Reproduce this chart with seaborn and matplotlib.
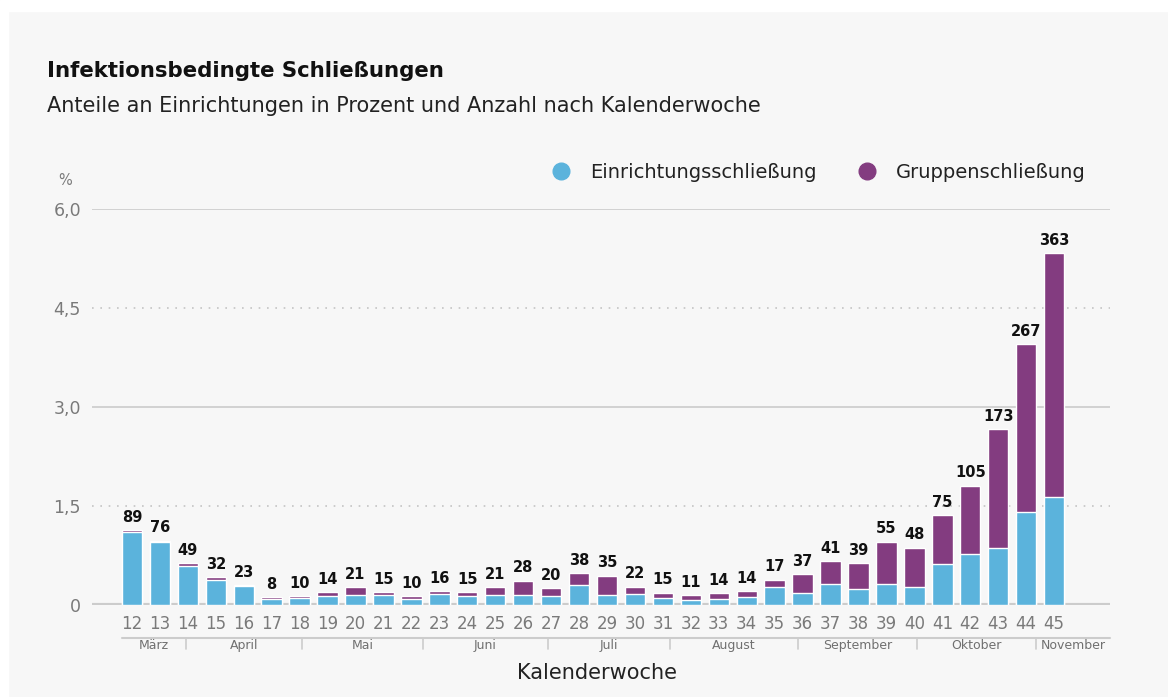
import matplotlib
matplotlib.use("Agg")
import matplotlib.pyplot as plt
from matplotlib.lines import Line2D
from matplotlib.patches import Rectangle
import seaborn as sns
import pandas as pd

weeks = [str(w) for w in range(12, 46)]
counts = [89, 76, 49, 32, 23, 8, 10, 14, 21, 15, 10, 16, 15, 21, 28, 20, 38,
          35, 22, 15, 11, 14, 14, 17, 37, 41, 39, 55, 48, 75, 105, 173, 267, 363]
einrichtung = [1.11, 0.95, 0.59, 0.38, 0.29, 0.095, 0.11, 0.14, 0.155, 0.15,
               0.095, 0.17, 0.13, 0.145, 0.155, 0.135, 0.305, 0.15, 0.165, 0.11,
               0.08, 0.095, 0.12, 0.275, 0.185, 0.325, 0.245, 0.315, 0.275,
               0.62, 0.78, 0.87, 1.41, 1.64]
gruppe = [0.025, 0.02, 0.04, 0.04, 0.01, 0.02, 0.025, 0.05, 0.115, 0.045,
          0.04, 0.04, 0.065, 0.125, 0.215, 0.12, 0.175, 0.295, 0.115, 0.075,
          0.065, 0.08, 0.085, 0.11, 0.28, 0.34, 0.39, 0.64, 0.595, 0.74,
          1.03, 1.79, 2.54, 3.69]
months = ["März", "April", "Mai", "Juni", "Juli", "August", "September",
          "Oktober", "November"]
# month boundaries in calendar-week units
month_bounds = [11.64, 13.95, 18.1, 22.4, 26.9, 31.25, 35.85, 40.1, 44.35, 47.0]

BLUE = "#5bb3dc"
PURPLE = "#833c80"
BG = "#f7f7f7"

df = pd.DataFrame({"KW": weeks, "einr": einrichtung, "grp": gruppe})
df["total"] = df["einr"] + df["grp"]

sns.set_style("white")
plt.rcParams["font.family"] = ["DejaVu Sans"]

fig = plt.figure(figsize=(11.68, 6.97), dpi=100, facecolor=BG)
fig.patches.append(Rectangle((0, 1 - 11 / 697), 1, 11 / 697, transform=fig.transFigure,
                             color="white", zorder=-5))
fig.patches.append(Rectangle((0, 0), 8 / 1168, 1, transform=fig.transFigure,
                             color="white", zorder=-5))

ax = fig.add_axes([92 / 1168, 1 - 605 / 697, (1110 - 92) / 1168, 396 / 697])
ax.set_facecolor(BG)

sns.barplot(data=df, x="KW", y="total", color=PURPLE, saturation=1, width=0.73,
            ax=ax, zorder=3)
sns.barplot(data=df, x="KW", y="einr", color=BLUE, saturation=1, width=0.73,
            ax=ax, zorder=3)

ax.bar_label(ax.containers[0], labels=[str(c) for c in counts], padding=4,
             fontsize=10.5, fontweight="bold", color="#111111")

for y in [3.0, 6.0]:
    ax.axhline(y, color="#cfcfcf", lw=1.3, zorder=0)
for y in [1.5, 4.5]:
    ax.axhline(y, color="#c4c4c4", lw=1.2, ls=(0, (1, 4)), zorder=0)
ax.axhline(0, color="#cccccc", lw=3, zorder=1)

ax.set_xlim(-1.43, 35.0)
ax.set_ylim(0, 6.0)
sns.despine(ax=ax, left=True, bottom=True)

ax.set_yticks([0, 1.5, 3.0, 4.5, 6.0])
ax.set_yticklabels(["0", "1,5", "3,0", "4,5", "6,0"])
ax.tick_params(axis="y", length=0, pad=8, labelsize=12.5, labelcolor="#7a7a7a")
ax.tick_params(axis="x", length=0, pad=7, labelsize=12, labelcolor="#7a7a7a")
ax.set_ylabel("")
ax.set_xlabel("Kalenderwoche", fontsize=15, color="#222222")
ax.xaxis.set_label_coords(0.496, -0.172)
ax.xaxis.label.set_va("center")

ax.text(-0.033, 1.073, "%", transform=ax.transAxes, fontsize=10.5,
        color="#7a7a7a", ha="left", va="center")

# month axis below the week numbers
tr = ax.get_xaxis_transform()
off = 12
ax.plot([month_bounds[0] - off, 35.0], [-0.083, -0.083], transform=tr,
        color="#cccccc", lw=1.5, clip_on=False)
for b in month_bounds[1:-1]:
    ax.plot([b - off, b - off], [-0.083, -0.11], transform=tr,
            color="#cccccc", lw=1.2, clip_on=False)
for i, m in enumerate(months):
    lo = month_bounds[i] - off
    hi = min(month_bounds[i + 1] - off, 35.0)
    ax.text((lo + hi) / 2, -0.103, m, transform=tr, ha="center", va="center",
            fontsize=9, color="#707070")

fig.text(47 / 1168, 1 - 77 / 697, "Infektionsbedingte Schließungen",
         fontsize=15.3, fontweight="bold", color="#111111", va="baseline")
fig.text(47 / 1168, 1 - 112 / 697,
         "Anteile an Einrichtungen in Prozent und Anzahl nach Kalenderwoche",
         fontsize=15, color="#222222", va="baseline")

handles = [Line2D([], [], marker="o", ls="", color=BLUE, markersize=12),
           Line2D([], [], marker="o", ls="", color=PURPLE, markersize=12)]
fig.legend(handles, ["Einrichtungsschließung", "Gruppenschließung"], ncol=2,
           frameon=False, loc="center left",
           bbox_to_anchor=(524 / 1168, 1 - 172 / 697), fontsize=14,
           handletextpad=0.5, columnspacing=1.6, labelcolor="#222222")

fig.savefig("out.png", dpi=100, facecolor=BG)
